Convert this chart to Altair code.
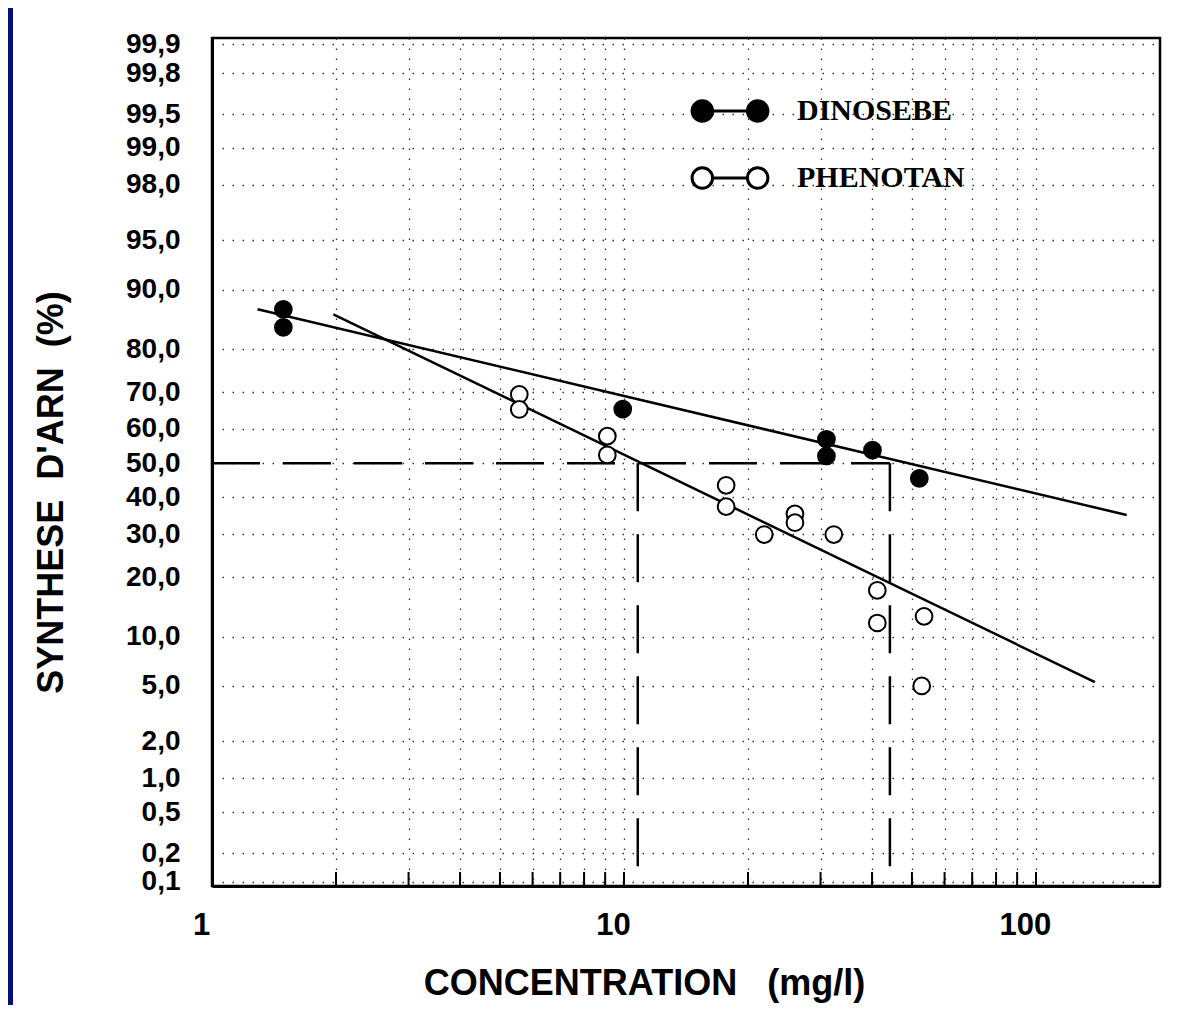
import altair as alt
import pandas as pd
from statistics import NormalDist

_nd = NormalDist()


def probit(p):
    return _nd.inv_cdf(p / 100.0)


# ---------------- data ----------------
series_names = ["DINOSEBE", "PHENOTAN"]

din_conc = [1.49, 1.49, 9.93, 31.0, 31.0, 40.1, 52.1]
din_pct = [87.2, 84.2, 65.5, 57.0, 52.1, 53.8, 45.5]

phe_conc = [5.57, 5.57, 9.11, 9.11, 17.7, 17.7, 21.9, 26.0, 26.0, 32.3, 41.2, 41.2, 53.5, 52.8]
phe_pct = [69.4, 65.4, 57.9, 52.4, 43.5, 37.4, 29.9, 35.4, 33.0, 29.9, 17.4, 11.9, 12.9, 5.0]

# fitted straight lines (end points)
din_fit_conc = [1.29, 166.0]
din_fit_pct = [87.2, 35.1]
phe_fit_conc = [1.97, 139.0]
phe_fit_pct = [86.4, 5.3]

# CE50 read-outs
ic50_conc = [10.8, 44.2]
ic50_pct = 50.0

y_ticks = [0.1, 0.2, 0.5, 1, 2, 5, 10, 20, 30, 40, 50, 60, 70, 80, 90, 95, 98, 99, 99.5, 99.8, 99.9]
y_labels = ["0,1", "0,2", "0,5", "1,0", "2,0", "5,0", "10,0", "20,0", "30,0", "40,0", "50,0",
            "60,0", "70,0", "80,0", "90,0", "95,0", "98,0", "99,0", "99,5", "99,8", "99,9"]
x_ticks = [1, 2, 3, 4, 5, 6, 7, 8, 9, 10, 20, 30, 40, 50, 60, 70, 80, 90, 100]
x_labels = [1, 10, 100]

x_domain = [1, 200]
y_domain_pct = [0.09, 99.915]

NB = "\u00a0"
x_title = "CONCENTRATION" + NB * 3 + "(mg/l)"
y_title = "SYNTHESE" + NB * 2 + "D'ARN" + NB * 2 + "(%)"

# ---------------- tables ----------------
W, H = 948, 848

pts = pd.DataFrame({
    "conc": din_conc + phe_conc,
    "pct": din_pct + phe_pct,
    "series": [series_names[0]] * len(din_conc) + [series_names[1]] * len(phe_conc),
})
pts["z"] = pts["pct"].map(probit)

fit = pd.DataFrame({
    "conc": din_fit_conc + phe_fit_conc,
    "pct": din_fit_pct + phe_fit_pct,
    "series": [series_names[0]] * 2 + [series_names[1]] * 2,
})
fit["z"] = fit["pct"].map(probit)

zmin, zmax = probit(y_domain_pct[0]), probit(y_domain_pct[1])

hline = pd.DataFrame({"conc": [x_domain[0]], "conc2": [max(ic50_conc)], "z": [probit(ic50_pct)]})
vlines = pd.DataFrame({"conc": ic50_conc, "z": [probit(ic50_pct)] * 2, "z2": [zmin] * 2})
ticks = pd.DataFrame({"conc": x_ticks})

# ---------------- axes ----------------
FONT = "Liberation Sans"
x_label_expr = "(" + " || ".join(f"datum.value == {v}" for v in x_labels) + ") ? format(datum.value, 'd') : ''"

y_vals = [probit(v) for v in y_ticks]
y_label_expr = "''"
for zv, lab in reversed(list(zip(y_vals, y_labels))):
    y_label_expr = f"(abs(datum.value - ({zv:.6f})) < 0.0001 ? '{lab}' : {y_label_expr})"

grid_style = dict(grid=True, gridDash=[1.5, 8.5], gridColor="#333333", gridWidth=1.3)

x_axis = alt.Axis(
    values=x_ticks, labelExpr=x_label_expr, ticks=False, tickSize=0,
    domainColor="black", domainWidth=3,
    labelFont=FONT, labelFontSize=31, labelFontWeight="bold", labelColor="black",
    labelPadding=24, labelOffset=-11, labelFlush=False, labelOverlap=False,
    title=x_title, titleFont=FONT, titleFontSize=36, titleFontWeight="bold",
    titleColor="black", titleX=432, titleY=108, titleAlign="center", titleBaseline="alphabetic",
    **grid_style,
)
y_axis = alt.Axis(
    values=y_vals, labelExpr=y_label_expr, ticks=False, tickSize=0,
    domainColor="black", domainWidth=3,
    labelFont=FONT, labelFontSize=28, labelFontWeight="bold", labelColor="black",
    labelPadding=32, labelFlush=False, labelOverlap=False,
    title=y_title, titleFont=FONT, titleFontSize=36, titleFontWeight="bold",
    titleColor="black", titleX=-150, titleY=454, titleAngle=270, titleAlign="center",
    titleBaseline="alphabetic",
    **grid_style,
)

xs = alt.Scale(type="log", domain=x_domain, nice=False)
ys = alt.Scale(domain=[zmin, zmax], nice=False, zero=False)
X = alt.X("conc:Q", scale=xs, axis=x_axis)
Y = alt.Y("z:Q", scale=ys, axis=y_axis)

legend_path = ("M-3.7,0A1,1,0,1,0,-1.7,0A1,1,0,1,0,-3.7,0Z"
               "M-1.7,0L1.7,0"
               "M1.7,0A1,1,0,1,0,3.7,0A1,1,0,1,0,1.7,0Z")

legend = alt.Legend(
    title=None, orient="none", legendX=503, legendY=58, direction="vertical",
    symbolType=legend_path, symbolSize=420, symbolStrokeColor="black", symbolStrokeWidth=3,
    labelFont="Liberation Serif", labelFontSize=30, labelFontWeight="bold", labelColor="black",
    labelOffset=52, labelLimit=400, rowPadding=33, padding=0,
)

# ---------------- layers ----------------
border = alt.Chart(pd.DataFrame({"a": [0]})).mark_rect(color="#001078").encode(
    x=alt.value(-204), x2=alt.value(-199), y=alt.value(-40), y2=alt.value(H + 130)
)

tick_layer = alt.Chart(ticks).mark_rule(color="black", strokeWidth=2).encode(
    x=X, y=alt.value(H), y2=alt.value(H - 14)
)

h_rule = alt.Chart(hline).mark_rule(color="black", strokeWidth=2.5, strokeDash=[48, 23]).encode(
    x=X, x2="conc2:Q", y=Y
)
v_rules = alt.Chart(vlines).mark_rule(color="black", strokeWidth=2.5, strokeDash=[48, 23]).encode(
    x=X, y=Y, y2="z2:Q"
)

fit_lines = alt.Chart(fit).mark_line(color="black", strokeWidth=2.5).encode(
    x=X, y=Y, detail="series:N"
)

points = alt.Chart(pts).mark_point(
    shape="circle", filled=True, size=280, stroke="black", strokeWidth=2, opacity=1
).encode(
    x=X, y=Y,
    fill=alt.Fill("series:N", scale=alt.Scale(domain=series_names, range=["black", "white"]), legend=legend),
)

chart = alt.layer(border, tick_layer, h_rule, v_rules, fit_lines, points).properties(
    width=W, height=H,
    autosize=alt.AutoSizeParams(type="none"),
    padding={"left": 204, "top": 30, "right": 12, "bottom": 119},
    background="white",
).configure_view(stroke="black", strokeWidth=2.5)

chart.save("out.html", embed_options={"renderer": "svg", "actions": False})
